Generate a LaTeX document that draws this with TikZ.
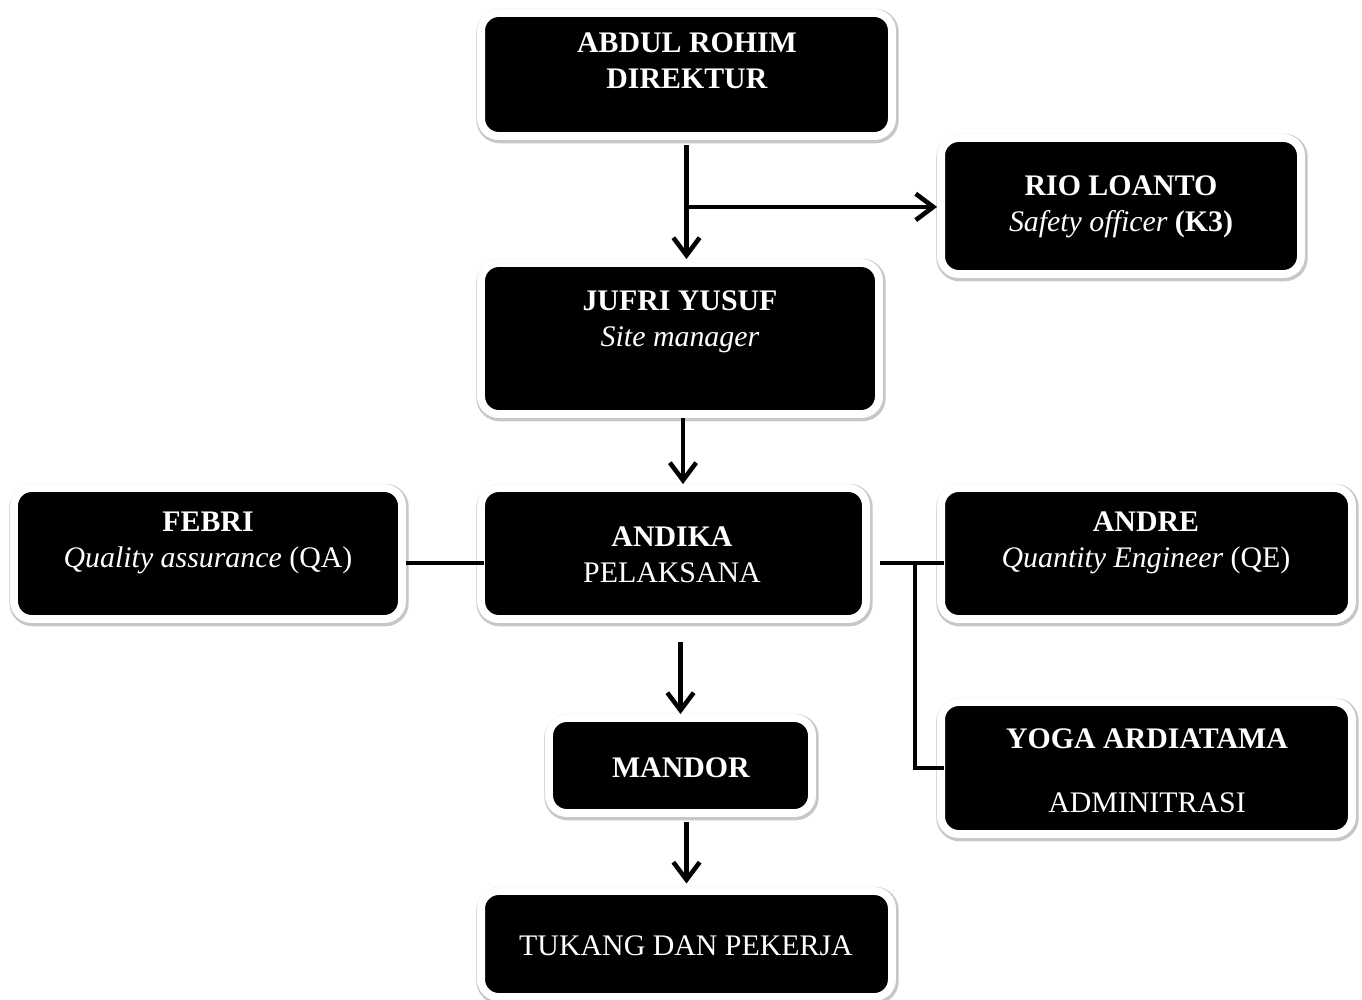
\documentclass[tikz,border=0pt]{standalone}
\usepackage{fontspec}
\setmainfont{Liberation Serif}
\usetikzlibrary{arrows.meta,calc}

\tikzset{
  box/.style={rectangle, rounded corners=10pt, fill=black, draw=white, line width=4.5pt,
    preaction={draw=black!22, line width=6.5pt, transform canvas={shift={(0.6pt,-0.9pt)}}}},
  txt/.style={text=white, align=center, font=\fontsize{17}{20.5}\selectfont},
  arr/.style={line width=2.6pt, -{Straight Barb[length=10pt,width=15pt]}},
  ln/.style={line width=2.6pt}
}

\begin{document}
\begin{tikzpicture}[x=0.02cm,y=-0.02cm]
\useasboundingbox (0,0) rectangle (1362,1000);

%kotak
\node[box, minimum width=8.22cm, minimum height=2.46cm] (dir) at (686.5,74.5) {};
\node[box, minimum width=7.2cm, minimum height=2.72cm] (rio) at (1121,206) {};
\node[box, minimum width=7.96cm, minimum height=3.02cm] (jufri) at (680,338.5) {};
\node[box, minimum width=7.76cm, minimum height=2.62cm] (febri) at (208,553.5) {};
\node[box, minimum width=7.7cm, minimum height=2.62cm] (andika) at (673.5,553.5) {};
\node[box, minimum width=8.22cm, minimum height=2.62cm] (andre) at (1146.5,553.5) {};
\node[box, minimum width=8.22cm, minimum height=2.64cm] (yoga) at (1146.5,768) {};
\node[box, minimum width=5.26cm, minimum height=1.9cm] (mandor) at (680.5,765.5) {};
\node[box, minimum width=8.22cm, minimum height=2.12cm] (tukang) at (686.5,944) {};

%teks
\node[txt] (dirt) at (687,61) {\textbf{ABDUL ROHIM}\\\textbf{DIREKTUR}};
\node[txt] (riot) at (1121,207) {\textbf{RIO LOANTO}\\\textit{Safety officer} \textbf{(K3)}};
\node[txt] (jufrit) at (680,322) {\textbf{JUFRI YUSUF}\\\textit{Site manager}};
\node[txt] (febrit) at (208,543) {\textbf{FEBRI}\\\textit{Quality assurance} (QA)};
\node[txt] (andikat) at (672,555) {\textbf{ANDIKA}\\PELAKSANA};
\node[txt] (andret) at (1146,543) {\textbf{ANDRE}\\\textit{Quantity Engineer} (QE)};
\node[txt] (yogat) at (1147,771) {\textbf{YOGA ARDIATAMA}\\[16pt]ADMINITRASI};
\node[txt] (mandort) at (681,768) {\textbf{MANDOR}};
\node[txt] (tukangt) at (686,946) {TUKANG DAN PEKERJA};

%garis
\draw[arr, shorten <=3pt] (dir.south) -- (dir.south |- jufri.north);
\coordinate (br) at ($(dir.south)+(0,67)$);
\draw[arr] (br) -- (br -| rio.west);
\draw[arr] ($(jufri.south)+(3,0)$) -- ($(jufri.south |- andika.north)+(3,0)$);
\draw[ln, shorten >=-4pt] ([yshift=-5.3pt]febri.east) -- ([yshift=-5.3pt]andika.west);
\draw[ln, shorten >=-4pt] ([shift={(6pt,-5.3pt)}]andika.east) -- ([yshift=-5.3pt]andre.west);
\coordinate (j) at (915,563);
\draw[ln, shorten >=-4pt] (j) |- (yoga.west);
\draw[arr, shorten <=11pt] (mandor.north |- andika.south) -- (mandor.north);
\draw[arr, shorten <=3pt, shorten >=2pt] (tukang.north |- mandor.south) -- (tukang.north);

\end{tikzpicture}
\end{document}
